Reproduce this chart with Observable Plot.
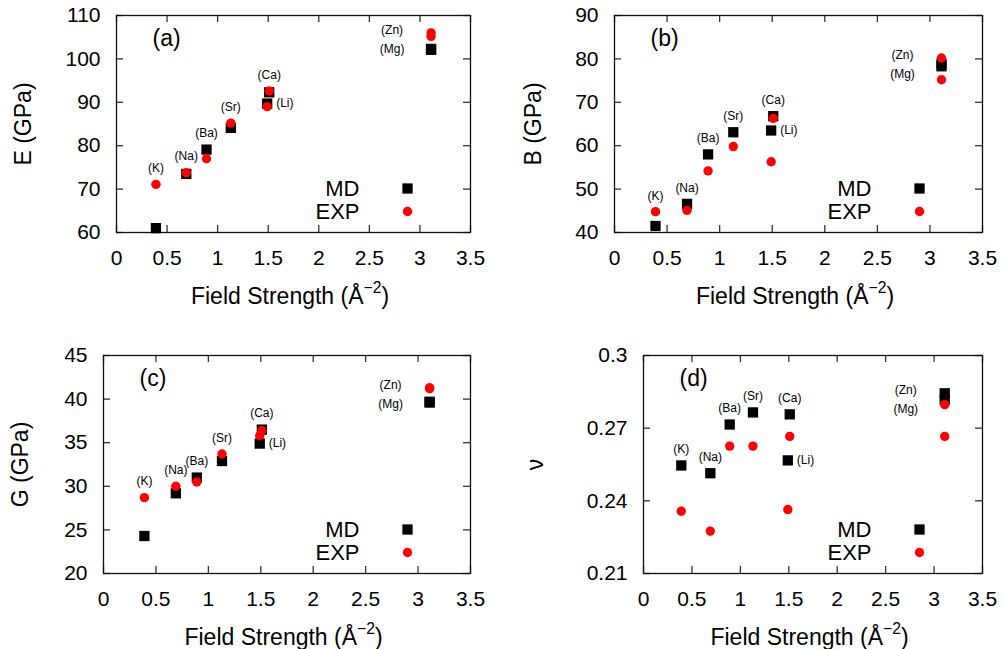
<!DOCTYPE html>
<html><head><meta charset="utf-8">
<script src="https://cdn.jsdelivr.net/npm/d3@7"></script>
<script src="https://cdn.jsdelivr.net/npm/@observablehq/plot@0.6"></script>
<style>
body{margin:0;background:#fff;}
#wrap{position:relative;width:1005px;height:649px;font-family:"Liberation Sans",Arial,Helvetica,sans-serif;overflow:hidden;}
.panel{position:absolute;}
.panel svg{overflow:visible;}
.xt{position:absolute;font-size:23px;line-height:1;transform:translate(-50%,-50%);white-space:nowrap;color:#000;}
.xt sup{font-size:0.68em;position:relative;top:-0.15em;vertical-align:super;line-height:0;}
</style></head><body><div id="wrap"></div>
<script>
// ---- data ----
const species = ["K", "Na", "Ba", "Sr", "Ca", "Li", "Mg", "Zn"];
const fieldStrength = [0.39, 0.69, 0.89, 1.13, 1.51, 1.49, 3.11, 3.11];

const E_MD  = [61.0, 73.5, 79.1, 84.1, 92.3, 89.7, 102.1, 102.3];
const E_EXP = [71.1, 73.8, 77.0, 85.2, 92.6, 89.0, 105.2, 106.0];
const B_MD  = [41.5, 46.6, 58.0, 63.1, 66.8, 63.5, 78.3, 78.9];
const B_EXP = [44.8, 45.1, 54.2, 59.8, 66.3, 56.3, 75.2, 80.2];
const G_MD  = [24.3, 29.2, 31.0, 32.9, 36.5, 34.9, 39.6, 39.7];
const G_EXP = [28.7, 30.0, 30.5, 33.7, 36.4, 35.8, 41.2, 41.3];
const NU_MD  = [0.2546, 0.2514, 0.2715, 0.2765, 0.2757, 0.2567, 0.2817, 0.2844];
const NU_EXP = [0.2357, 0.2275, 0.2626, 0.2626, 0.2666, 0.2364, 0.2666, 0.2797];

const X_TICKS = [0, 0.5, 1, 1.5, 2, 2.5, 3, 3.5];
const E_TICKS = [60, 70, 80, 90, 100, 110];
const B_TICKS = [40, 50, 60, 70, 80, 90];
const G_TICKS = [20, 25, 30, 35, 40, 45];
const NU_TICKS = [0.21, 0.24, 0.27, 0.30];

const seriesNames = ["MD", "EXP"];
const xTitle = "Field Strength (Å<sup>−2</sup>)";

// ---- layout ----
const panels = [
  {letter: "(a)", yLabel: "E (GPa)", md: E_MD, exp: E_EXP, yTicks: E_TICKS,
   left: 0, top: 0, width: 500, height: 320, mt: 15, mr: 30, mb: 88, ml: 116, yTitleX: 23},
  {letter: "(b)", yLabel: "B (GPa)", md: B_MD, exp: B_EXP, yTicks: B_TICKS,
   left: 500, top: 0, width: 505, height: 320, mt: 15, mr: 23, mb: 88, ml: 114, yTitleX: 533},
  {letter: "(c)", yLabel: "G (GPa)", md: G_MD, exp: G_EXP, yTicks: G_TICKS,
   left: 0, top: 320, width: 500, height: 329, mt: 35, mr: 30, mb: 76, ml: 103, yTitleX: 20},
  {letter: "(d)", yLabel: "ν", md: NU_MD, exp: NU_EXP, yTicks: NU_TICKS,
   left: 500, top: 320, width: 505, height: 329, mt: 35, mr: 23, mb: 76, ml: 143, yTitleX: 535}
];

const fmt = d => String(+(+d).toFixed(2));
const FONT = '"Liberation Sans", Arial, Helvetica, sans-serif';
const TICK = "#333";
const TL = 7; // inward tick length
const wrap = document.getElementById("wrap");

for (const p of panels) {
  const rows = species.map((s, i) => ({s, x: fieldStrength[i], md: p.md[i], exp: p.exp[i]}));
  const above = rows.filter(r => !["Li", "Mg", "Zn"].includes(r.s));
  const li = rows.filter(r => r.s === "Li");
  const zn = rows.find(r => r.s === "Zn");
  const znTop = Math.max(zn.md, zn.exp);
  const mg = rows.filter(r => r.s === "Mg");
  const yDomain = [p.yTicks[0], p.yTicks[p.yTicks.length - 1]];
  const fw = p.width - p.ml - p.mr;
  const fh = p.height - p.mt - p.mb;

  const chart = Plot.plot({
    width: p.width, height: p.height,
    marginTop: p.mt, marginRight: p.mr, marginBottom: p.mb, marginLeft: p.ml,
    x: {domain: [X_TICKS[0], X_TICKS[X_TICKS.length - 1]]},
    y: {domain: yDomain},
    style: {fontFamily: FONT, background: "transparent", color: "#000", overflow: "visible"},
    marks: [
      Plot.axisX(X_TICKS, {anchor: "bottom", tickSize: 0, tickPadding: 18, tickFormat: fmt, fontSize: 21, label: null}),
      Plot.axisY(p.yTicks, {anchor: "left", tickSize: 0, tickPadding: 16, tickFormat: fmt, fontSize: 21, label: null}),
      // inward ticks on all four sides
      Plot.ruleX(X_TICKS, {x: d => d, insetTop: fh - TL, stroke: TICK, strokeWidth: 1.3}),
      Plot.ruleX(X_TICKS, {x: d => d, insetBottom: fh - TL, stroke: TICK, strokeWidth: 1.3}),
      Plot.ruleY(p.yTicks, {y: d => d, insetRight: fw - TL, stroke: TICK, strokeWidth: 1.3}),
      Plot.ruleY(p.yTicks, {y: d => d, insetLeft: fw - TL, stroke: TICK, strokeWidth: 1.3}),
      Plot.frame({stroke: "#111", strokeWidth: 1.3}),
      Plot.dot(rows, {x: "x", y: "md", symbol: "square", r: 5.8, fill: "black"}),
      Plot.dot(rows, {x: "x", y: "exp", symbol: "circle", r: 4.7, fill: "red"}),
      Plot.text(above, {x: "x", y: r => Math.max(r.md, r.exp), text: r => `(${r.s})`, dy: -16, fontSize: 12}),
      Plot.text(li, {x: "x", y: "md", text: r => `(${r.s})`, dx: 9, textAnchor: "start", fontSize: 12}),
      Plot.text([zn], {x: "x", y: () => znTop, text: r => `(${r.s})`, dx: -39, dy: -3, fontSize: 12}),
      Plot.text(mg, {x: "x", y: () => znTop, text: r => `(${r.s})`, dx: -39, dy: 16, fontSize: 12}),
      // legend
      Plot.text([seriesNames[0]], {frameAnchor: "bottom-right", text: d => d, dx: -111, dy: -44, textAnchor: "end", lineAnchor: "middle", fontSize: 22}),
      Plot.text([seriesNames[1]], {frameAnchor: "bottom-right", text: d => d, dx: -111, dy: -21, textAnchor: "end", lineAnchor: "middle", fontSize: 22}),
      Plot.dot([seriesNames[0]], {frameAnchor: "bottom-right", dx: -63, dy: -44, symbol: "square", r: 5.8, fill: "black"}),
      Plot.dot([seriesNames[1]], {frameAnchor: "bottom-right", dx: -63, dy: -21, symbol: "circle", r: 4.7, fill: "red"}),
      // panel letter
      Plot.text([p.letter], {frameAnchor: "top-left", text: d => d, dx: 36, dy: 23, textAnchor: "start", lineAnchor: "middle", fontSize: 23}),
      // y title
      Plot.text([p.yLabel], {frameAnchor: "left", text: d => d, dx: p.yTitleX - p.left - p.ml, rotate: -90, textAnchor: "middle", lineAnchor: "middle", fontSize: 23})
    ]
  });

  const div = document.createElement("div");
  div.className = "panel";
  div.style.left = p.left + "px";
  div.style.top = p.top + "px";
  div.style.width = p.width + "px";
  div.style.height = p.height + "px";
  div.appendChild(chart);
  wrap.appendChild(div);

  const xt = document.createElement("div");
  xt.className = "xt";
  xt.innerHTML = xTitle;
  const fx0 = p.left + p.ml, fx1 = p.left + p.width - p.mr;
  xt.style.left = ((fx0 + fx1) / 2 - 3) + "px";
  xt.style.top = (p.top + p.height - p.mb + 64) + "px";
  wrap.appendChild(xt);
}
</script></body></html>
